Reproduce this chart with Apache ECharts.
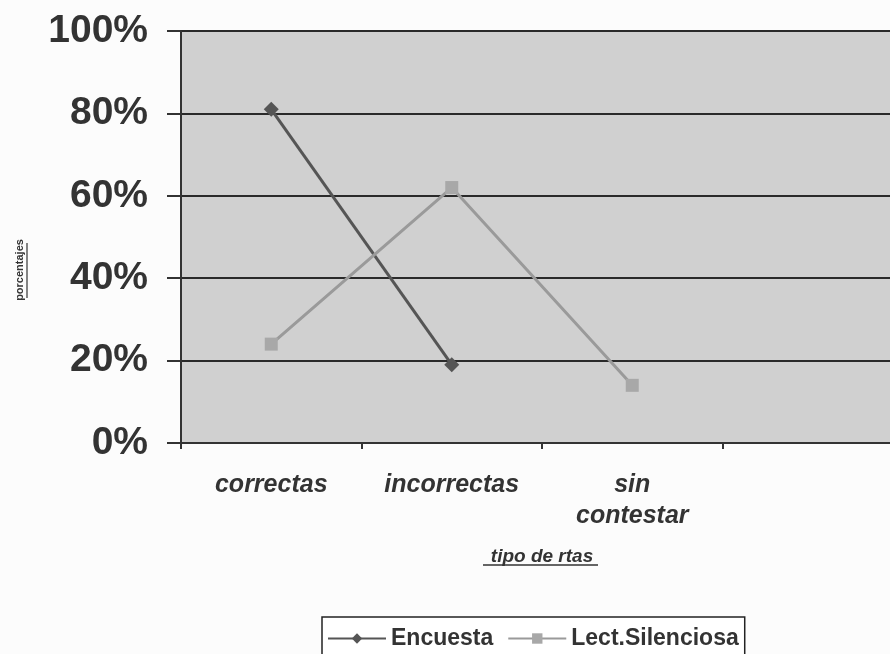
<!DOCTYPE html>
<html><head><meta charset="utf-8">
<script src="https://cdn.jsdelivr.net/npm/echarts@6/dist/echarts.min.js"></script>
<style>html,body{margin:0;padding:0;background:#fff}#c{width:890px;height:654px}</style>
</head><body><div id="c"></div>
<script>
const categories = ['correctas', 'incorrectas', 'sin\ncontestar', ''];
const encuesta = [81, 19, null, null];
const lectSilenciosa = [24, 62, 14, null];
const yTicks = [0, 20, 40, 60, 80, 100];

const font = 'Liberation Sans, Arial';
const chart = echarts.init(document.getElementById('c'));
chart.setOption({
  backgroundColor: '#fcfcfc',
  animation: false,
  grid: { left: 181, top: 31, width: 722, bottom: 211, show: true, backgroundColor: '#d0d0d0', borderWidth: 0,
    containLabel: false, outerBoundsMode: 'none' },
  legend: {
    top: 617, left: 322,
    itemWidth: 58, itemHeight: 13, itemGap: 14,
    padding: [10, 6, 8, 5],
    borderColor: '#222', borderWidth: 1.5, backgroundColor: '#fff',
    textStyle: { fontFamily: font, fontWeight: 'bold', fontSize: 23, color: '#333' },
    data: ['Encuesta', 'Lect.Silenciosa']
  },
  xAxis: {
    type: 'category', data: categories, boundaryGap: true,
    name: 'tipo de rtas', nameLocation: 'middle', nameGap: 104,
    nameTextStyle: { fontFamily: font, fontWeight: 'bold', fontStyle: 'italic', fontSize: 19, color: '#333' },
    axisLine: { lineStyle: { color: '#333', width: 2 } },
    axisTick: { show: true, length: 6, lineStyle: { color: '#333', width: 2 } },
    axisLabel: { margin: 27, lineHeight: 31, fontFamily: font, fontWeight: 'bold', fontStyle: 'italic', fontSize: 25, color: '#333' },
    splitLine: { show: false }
  },
  yAxis: {
    type: 'value', min: 0, max: 100, interval: 20,
    axisLine: { show: true, lineStyle: { color: '#333', width: 2 } },
    axisTick: { show: true, length: 14, lineStyle: { color: '#333', width: 2 } },
    axisLabel: { margin: 33, fontFamily: font, fontWeight: 'bold', fontSize: 39, color: '#333',
      formatter: v => yTicks.includes(v) ? v + '%' : '' },
    splitLine: { show: true, lineStyle: { color: '#2a2a2a', width: 2 } }
  },
  graphic: [
    { type: 'text', x: 20, y: 270, rotation: Math.PI / 2,
      style: { text: 'porcentajes', fontFamily: font, fontWeight: 'bold', fontSize: 11, fill: '#333', align: 'center', verticalAlign: 'middle' } },
    { type: 'line', shape: { x1: 27, y1: 243, x2: 27, y2: 298 }, style: { stroke: '#333', lineWidth: 1.2 } },
    { type: 'line', shape: { x1: 483, y1: 565, x2: 598, y2: 565 }, style: { stroke: '#333', lineWidth: 1.3 } }
  ],
  series: [
    { name: 'Encuesta', type: 'line', data: encuesta, connectNulls: false,
      symbol: 'diamond', symbolSize: 15,
      lineStyle: { color: '#555', width: 3 }, itemStyle: { color: '#555' } },
    { name: 'Lect.Silenciosa', type: 'line', data: lectSilenciosa,
      symbol: 'rect', symbolSize: 13,
      lineStyle: { color: '#9a9a9a', width: 3 }, itemStyle: { color: '#a8a8a8' } }
  ]
});
</script>
</body></html>
